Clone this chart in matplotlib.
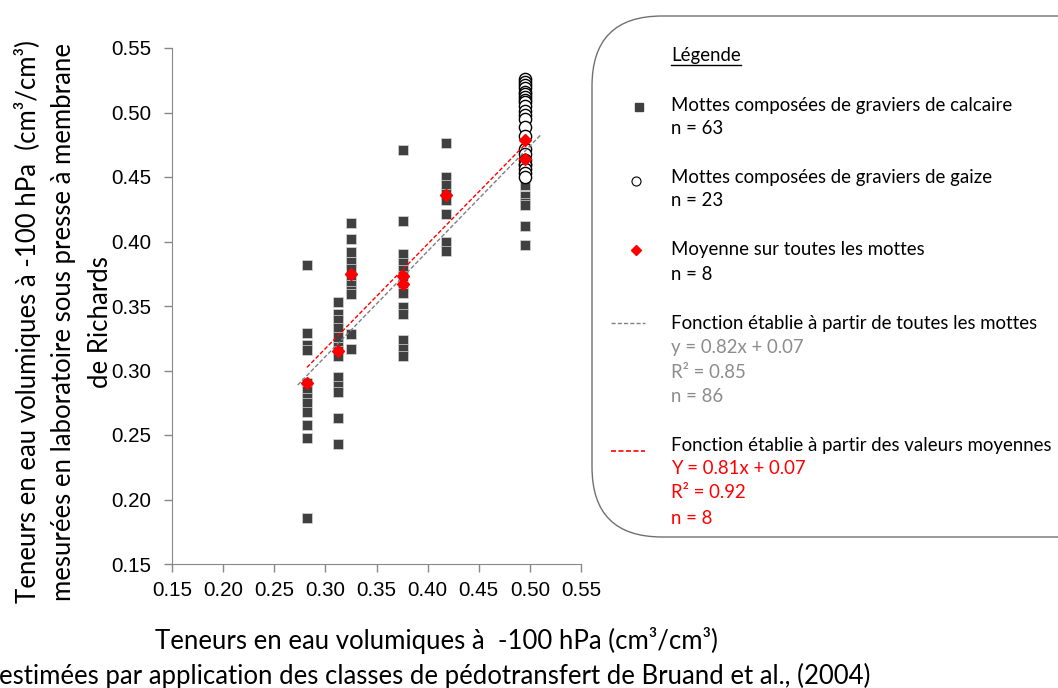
import numpy as np
import matplotlib.pyplot as plt
from matplotlib.patches import FancyBboxPatch

# mottes a graviers de calcaire (x estime, y mesure)
calc_x = [0.282] * 12 + [0.312] * 13 + [0.325] * 11 + [0.376] * 13 + [0.418] * 8 + [0.495] * 6
calc_y = [0.382, 0.329, 0.320, 0.316, 0.290, 0.284, 0.279, 0.275, 0.268, 0.258, 0.248, 0.186,
          0.353, 0.344, 0.339, 0.333, 0.326, 0.318, 0.315, 0.311, 0.295, 0.288, 0.283, 0.263, 0.243,
          0.414, 0.402, 0.392, 0.384, 0.379, 0.370, 0.366, 0.362, 0.359, 0.328, 0.317,
          0.471, 0.416, 0.390, 0.383, 0.378, 0.373, 0.365, 0.360, 0.349, 0.344, 0.324, 0.317, 0.311,
          0.476, 0.450, 0.444, 0.437, 0.432, 0.421, 0.400, 0.393,
          0.444, 0.435, 0.430, 0.428, 0.412, 0.397]

# mottes a graviers de gaize
gaize_x = [0.495] * 23
gaize_y = [0.526, 0.524, 0.521, 0.519, 0.516, 0.514, 0.512, 0.510, 0.508, 0.505, 0.501, 0.498,
           0.495, 0.489, 0.482, 0.472, 0.468, 0.463, 0.460, 0.459, 0.456, 0.453, 0.450]

# moyennes par groupe
moy_x = [0.282, 0.312, 0.325, 0.376, 0.376, 0.418, 0.495, 0.495]
moy_y = [0.290, 0.315, 0.375, 0.373, 0.367, 0.436, 0.479, 0.464]

# droites de regression (coefficients arrondis dans la legende)
a_all, b_all = 0.816, 0.066
a_moy, b_moy = 0.810, 0.074

ticks = [0.15, 0.20, 0.25, 0.30, 0.35, 0.40, 0.45, 0.50, 0.55]

W, H = 1058, 688
fig = plt.figure(figsize=(W / 100, H / 100), dpi=100)
ax = fig.add_axes([172 / W, 1 - 564 / H, (581 - 172) / W, (564 - 48) / H])

ax.plot(calc_x, calc_y, 's', color='#404040', ms=6.8, mec='#d8d8d8', mew=0.5, zorder=2)
ax.plot(gaize_x, gaize_y, 'o', mfc='white', mec='black', ms=8.8, mew=1.0, zorder=3)

xa = np.array([0.273, 0.511])
ax.plot(xa, a_all * xa + b_all, '--', color='#808080', lw=1.0, dashes=(3, 1.5), zorder=4)
xm = np.array([0.282, 0.496])
ax.plot(xm, a_moy * xm + b_moy, '--', color='red', lw=1.0, dashes=(3, 1.5), zorder=4)

ax.plot(moy_x, moy_y, 'D', color='red', ms=6.5, mec='red', zorder=5)

ax.set_xlim(0.15, 0.55)
ax.set_ylim(0.15, 0.55)
ax.set_xticks(ticks)
ax.set_yticks(ticks)
ax.set_xticklabels(['%.2f' % t for t in ticks], family='Liberation Sans', fontsize=14.8)
ax.set_yticklabels(['%.2f' % t for t in ticks], family='Liberation Sans', fontsize=14.8)
ax.tick_params(direction='out', length=6, width=1, color='#888888')
ax.tick_params(axis='y', pad=9)
ax.tick_params(axis='x', pad=6)
for s in ['top', 'right']:
    ax.spines[s].set_visible(False)
for s in ['left', 'bottom']:
    ax.spines[s].set_color('#888888')

lab = dict(family='Lato', fontsize=18.5, color='black')
fig.text(28 / W, 1 - 322 / H, 'Teneurs en eau volumiques à -100 hPa  (cm³/cm³)',
         rotation=90, ha='center', va='center', **lab)
fig.text(64 / W, 1 - 322 / H, 'mesurées en laboratoire sous presse à membrane',
         rotation=90, ha='center', va='center', **lab)
fig.text(100 / W, 1 - 322 / H, 'de Richards',
         rotation=90, ha='center', va='center', **lab)
fig.text(436 / W, 1 - 641 / H, 'Teneurs en eau volumiques à  -100 hPa (cm³/cm³)',
         ha='center', va='center', **lab)
fig.text(435 / W, 1 - 676 / H, 'estimées par application des classes de pédotransfert de Bruand et al., (2004)',
         ha='center', va='center', **lab)

# cadre de legende en coordonnees pixel
lg = fig.add_axes([0, 0, 1, 1], zorder=9)
lg.set_xlim(0, W)
lg.set_ylim(H, 0)
lg.axis('off')
lg.patch.set_alpha(0)
lg.add_patch(FancyBboxPatch((592, 16), 560, 521, boxstyle='round,pad=0,rounding_size=70',
                            fc='white', ec='#707070', lw=1.0))

ft = dict(family='Lato', fontsize=13.4, va='center', ha='left')
tx = 671
titre = lg.text(tx, 55, 'Légende', color='black', **ft)
lg.text(tx, 105, 'Mottes composées de graviers de calcaire', color='black', **ft)
lg.text(tx, 128, 'n = 63', color='black', **ft)
lg.text(tx, 178, 'Mottes composées de graviers de gaize', color='black', **ft)
lg.text(tx, 201, 'n = 23', color='black', **ft)
lg.text(tx, 250, 'Moyenne sur toutes les mottes', color='black', **ft)
lg.text(tx, 274, 'n = 8', color='black', **ft)
lg.text(tx, 323, 'Fonction établie à partir de toutes les mottes', color='black', **ft)
lg.text(tx, 348, 'y = 0.82x + 0.07', color='#8c8c8c', **ft)
lg.text(tx, 372, 'R² = 0.85', color='#8c8c8c', **ft)
lg.text(tx, 396, 'n = 86', color='#8c8c8c', **ft)
lg.text(tx, 445, 'Fonction établie à partir des valeurs moyennes', color='black', **ft)
lg.text(tx, 469, 'Y = 0.81x + 0.07', color='red', **ft)
lg.text(tx, 493, 'R² = 0.92', color='red', **ft)
lg.text(tx, 518, 'n = 8', color='red', **ft)

# soulignement du titre
fig.canvas.draw()
bb = titre.get_window_extent()
lg.plot([tx, tx + bb.width], [65, 65], color='black', lw=1)

lg.plot([639], [107], 's', color='#404040', ms=5.5)
lg.plot([636], [181], 'o', mfc='white', mec='black', ms=6.5, mew=0.8)
lg.plot([636], [250], 'D', color='red', ms=5)
lg.plot([611, 645], [323, 323], '--', color='#808080', lw=1.0, dashes=(3, 1.5))
lg.plot([611, 645], [451, 451], '--', color='red', lw=1.2, dashes=(3, 1.5))

fig.savefig('out.png', dpi=100)
